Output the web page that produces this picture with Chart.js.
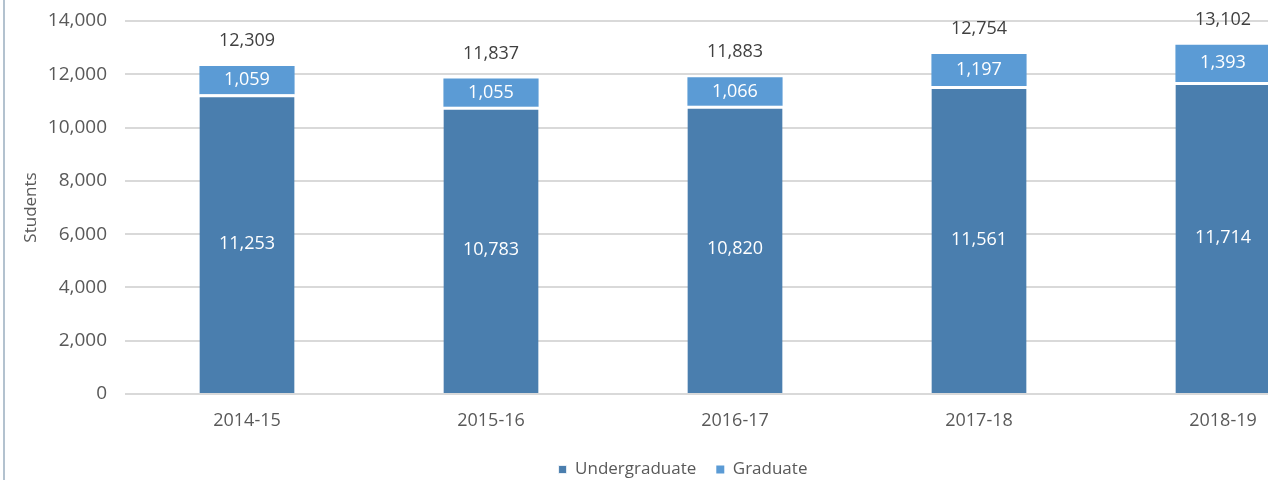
<!DOCTYPE html>
<html>
<head>
<meta charset="utf-8">
<script src="https://cdn.jsdelivr.net/npm/chart.js@4.4.1/dist/chart.umd.min.js"></script>
<style>
  html, body { margin: 0; padding: 0; background: #fff; }
  #wrap { position: relative; width: 1268px; height: 480px; overflow: hidden; }
  #edge { position: absolute; left: 3px; top: 0; width: 2px; height: 480px; background: #b3c2cf; }
  #box { position: absolute; left: 0; top: 0; width: 1350px; height: 480px; }
</style>
</head>
<body>
<div id="wrap">
  <div id="box"><canvas id="chart"></canvas></div>
  <div id="edge"></div>
</div>
<script>
// enrolment by year
const years = ["2014-15", "2015-16", "2016-17", "2017-18", "2018-19"];
const undergraduate = [11253, 10783, 10820, 11561, 11714];
const graduate = [1059, 1055, 1066, 1197, 1393];
const totals = [12309, 11837, 11883, 12754, 13102];
const yTicks = [0, 2000, 4000, 6000, 8000, 10000, 12000, 14000];

const FONT = "'Open Sans', sans-serif";
const fmt = v => v.toLocaleString('en-US');

// draws the value labels (no datalabels plugin offline)
const valueLabels = {
    id: 'valueLabels',
    afterDatasetsDraw(chart) {
        const ctx = chart.ctx;
        ctx.save();
        ctx.font = "18px " + FONT;
        ctx.textAlign = 'center';
        ctx.textBaseline = 'middle';
        chart.data.datasets.forEach((ds, i) => {
            chart.getDatasetMeta(i).data.forEach((bar, j) => {
                const mid = (bar.y + bar.base) / 2;
                ctx.fillStyle = '#ffffff';
                ctx.fillText(fmt(ds.data[j]), bar.x, mid);
            });
        });
        const top = chart.getDatasetMeta(1).data;
        ctx.fillStyle = '#404040';
        top.forEach((bar, j) => {
            ctx.fillText(fmt(totals[j]), bar.x, bar.y - 25);
        });
        ctx.restore();
    }
};

new Chart(document.getElementById('chart'), {
    type: 'bar',
    data: {
        labels: years,
        datasets: [{
            label: 'Undergraduate',
            data: undergraduate,
            backgroundColor: '#4a7eae',
            borderColor: '#ffffff',
            borderWidth: { top: 3, left: 0, right: 0, bottom: 0 },
            borderSkipped: 'bottom',
            barPercentage: 0.39,
            categoryPercentage: 1
        }, {
            label: 'Graduate',
            data: graduate,
            backgroundColor: '#5b9bd5',
            borderWidth: 0,
            barPercentage: 0.39,
            categoryPercentage: 1
        }]
    },
    options: {
        responsive: true,
        maintainAspectRatio: false,
        animation: false,
        layout: { padding: { top: 21, right: 5, left: 21, bottom: -8 } },
        plugins: {
            legend: {
                position: 'bottom',
                labels: {
                    boxWidth: 8, boxHeight: 8, padding: 20,
                    color: '#595959',
                    font: { family: FONT, size: 17 }
                }
            },
            tooltip: { enabled: false }
        },
        scales: {
            x: {
                stacked: true,
                afterFit: s => { s.height = 47; s.paddingLeft = 0; s.paddingRight = 0; },
                grid: { display: false },
                border: { display: false },
                ticks: { color: '#595959', font: { family: FONT, size: 18 }, padding: 8 }
            },
            y: {
                stacked: true,
                min: 0, max: 14000,
                afterBuildTicks: s => { s.ticks = yTicks.map(v => ({ value: v })); },
                afterFit: s => { s.width = 104; s.paddingTop = 0; s.paddingBottom = 0; },
                grid: { color: '#d9d9d9', lineWidth: 2, drawTicks: false },
                border: { display: false },
                title: {
                    display: true, text: 'Students', color: '#595959',
                    font: { family: FONT, size: 17 }, padding: 0
                },
                ticks: {
                    color: '#595959', font: { family: FONT, size: 19 }, padding: 18,
                    callback: v => fmt(v)
                }
            }
        }
    },
    plugins: [valueLabels]
});
</script>
</body>
</html>
